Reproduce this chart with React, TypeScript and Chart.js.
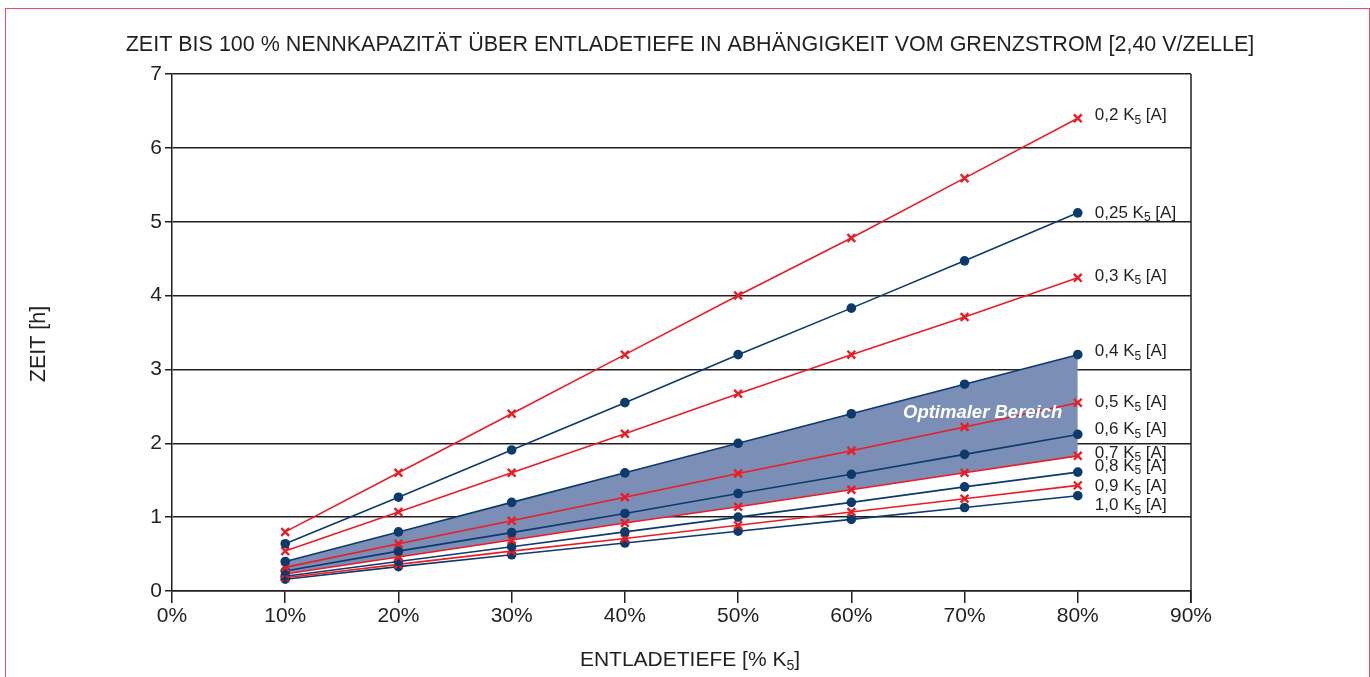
import { useEffect, useRef } from 'react';
import { Chart, registerables } from 'chart.js';
Chart.register(...registerables);

const depth = [10, 20, 30, 40, 50, 60, 70, 80];
const seriesNames = ['0,2', '0,25', '0,3', '0,4', '0,5', '0,6', '0,7', '0,8', '0,9', '1,0'];
const s02 = [0.8, 1.6, 2.4, 3.2, 4.0, 4.78, 5.59, 6.4];
const s025 = [0.64, 1.27, 1.91, 2.55, 3.2, 3.83, 4.47, 5.12];
const s03 = [0.54, 1.07, 1.6, 2.13, 2.67, 3.2, 3.71, 4.24];
const s04 = [0.4, 0.8, 1.2, 1.6, 2.0, 2.4, 2.8, 3.2];
const s05 = [0.32, 0.64, 0.95, 1.27, 1.59, 1.9, 2.22, 2.55];
const s06 = [0.27, 0.54, 0.79, 1.05, 1.32, 1.58, 1.85, 2.12];
const s07 = [0.23, 0.46, 0.69, 0.92, 1.14, 1.37, 1.6, 1.83];
const s08 = [0.2, 0.4, 0.6, 0.8, 1.0, 1.2, 1.41, 1.61];
const s09 = [0.18, 0.36, 0.54, 0.71, 0.89, 1.07, 1.25, 1.43];
const s10 = [0.16, 0.33, 0.49, 0.65, 0.81, 0.97, 1.13, 1.29];
const seriesValues = [s02, s025, s03, s04, s05, s06, s07, s08, s09, s10];
const xTicks = [0, 10, 20, 30, 40, 50, 60, 70, 80, 90];
const yTicks = [0, 1, 2, 3, 4, 5, 6, 7];

const TITLE = 'ZEIT BIS 100 % NENNKAPAZITÄT ÜBER ENTLADETIEFE IN ABHÄNGIGKEIT VOM GRENZSTROM [2,40 V/ZELLE]';
const Y_TITLE = 'ZEIT [h]';
const AREA_LABEL = 'Optimaler Bereich';

const RED = '#ec1c24';
const NAVY = '#0b3a6c';
const FILL = '#7b8fb6';
const INK = '#231f20';
const FONT = '"Liberation Sans", Arial, sans-serif';
const labelOffsets = [-3, 0, -2, -3, 0, -5, -3, -6, 1, 10];

const decor = {
  id: 'decor',
  afterDatasetsDraw(chart: any) {
    const { ctx, scales } = chart;
    const xs = scales.x;
    const ys = scales.y;
    ctx.save();
    ctx.font = `italic bold 18.5px ${FONT}`;
    ctx.fillStyle = '#ffffff';
    ctx.textAlign = 'center';
    ctx.textBaseline = 'middle';
    ctx.fillText(AREA_LABEL, xs.getPixelForValue(71.6), ys.getPixelForValue(2.41));
    ctx.restore();
  },
  afterDraw(chart: any) {
    const { ctx, chartArea, scales } = chart;
    const xs = scales.x;
    const ys = scales.y;
    ctx.save();
    ctx.strokeStyle = INK;
    ctx.lineWidth = 1.5;
    ctx.beginPath();
    ctx.moveTo(chartArea.right, chartArea.top);
    ctx.lineTo(chartArea.right, chartArea.bottom + 12);
    ctx.stroke();
    ctx.fillStyle = INK;
    ctx.font = `21.5px ${FONT}`;
    ctx.textAlign = 'center';
    ctx.textBaseline = 'middle';
    ctx.fillText(TITLE, 690, 45);
    ctx.save();
    ctx.translate(39, 344);
    ctx.rotate(-Math.PI / 2);
    ctx.font = `21.5px ${FONT}`;
    ctx.fillText(Y_TITLE, 0, 0);
    ctx.restore();
    const main = 'ENTLADETIEFE [% K';
    const sub = '5';
    const end = ']';
    ctx.font = `21px ${FONT}`;
    const w1 = ctx.measureText(main).width;
    const w3 = ctx.measureText(end).width;
    ctx.font = `14px ${FONT}`;
    const w2 = ctx.measureText(sub).width;
    const x0 = 690 - (w1 + w2 + w3) / 2;
    ctx.textAlign = 'left';
    ctx.font = `21px ${FONT}`;
    ctx.fillText(main, x0, 660);
    ctx.font = `14px ${FONT}`;
    ctx.fillText(sub, x0 + w1, 666);
    ctx.font = `21px ${FONT}`;
    ctx.fillText(end, x0 + w1 + w2, 660);
    const lastX = xs.getPixelForValue(depth[depth.length - 1]) + 17;
    seriesValues.forEach((vals, i) => {
      const y = ys.getPixelForValue(vals[vals.length - 1]) + labelOffsets[i];
      ctx.font = `17px ${FONT}`;
      const a = `${seriesNames[i]} K`;
      const wa = ctx.measureText(a).width;
      ctx.fillText(a, lastX, y);
      ctx.font = `12px ${FONT}`;
      ctx.fillText('5', lastX + wa, y + 5);
      const wb = ctx.measureText('5').width;
      ctx.font = `17px ${FONT}`;
      ctx.fillText(' [A]', lastX + wa + wb, y);
    });
    ctx.restore();
  },
};

export default function App() {
  const ref = useRef<HTMLCanvasElement | null>(null);
  useEffect(() => {
    if (!ref.current) return;
    const datasets = seriesValues.map((vals, i) => {
      const red = i % 2 === 0;
      return {
        label: seriesNames[i],
        data: vals.map((v, j) => ({ x: depth[j], y: v })),
        borderColor: red ? RED : NAVY,
        backgroundColor: i === 3 ? FILL : red ? RED : NAVY,
        pointBackgroundColor: red ? RED : NAVY,
        pointBorderColor: red ? RED : NAVY,
        pointStyle: red ? 'crossRot' : 'circle',
        pointRadius: red ? 5.5 : 4.8,
        pointBorderWidth: red ? 2.4 : 0,
        borderWidth: 1.6,
        fill: i === 3 ? 6 : false,
        tension: 0,
      };
    });
    const chart = new Chart(ref.current, {
      type: 'line',
      data: { datasets: datasets as any },
      options: {
        animation: false,
        responsive: false,
        layout: { padding: { top: 74, right: 179, left: 0, bottom: 0 } },
        plugins: {
          legend: { display: false },
          tooltip: { enabled: false },
          filler: { drawTime: 'beforeDatasetsDraw' } as any,
        },
        scales: {
          x: {
            type: 'linear',
            min: 0,
            max: 90,
            afterBuildTicks: (s: any) => { s.ticks = xTicks.map((v) => ({ value: v })); },
            afterFit: (s: any) => { s.height = 86; },
            ticks: {
              callback: (v: any) => `${v}%`,
              color: INK,
              font: { size: 21, family: FONT },
              padding: 1,
              maxRotation: 0,
            },
            grid: { drawOnChartArea: false, drawTicks: true, tickLength: 12, color: INK, lineWidth: 1.5 },
            border: { display: true, color: INK, width: 1.5 },
          },
          y: {
            type: 'linear',
            min: 0,
            max: 7,
            afterBuildTicks: (s: any) => { s.ticks = yTicks.map((v) => ({ value: v })); },
            afterFit: (s: any) => { s.width = 172; },
            ticks: {
              color: INK,
              font: { size: 21, family: FONT },
              padding: 3,
            },
            grid: { drawOnChartArea: true, drawTicks: true, tickLength: 7, color: INK, lineWidth: 1.5 },
            border: { display: true, color: INK, width: 1.5 },
          },
        },
      },
      plugins: [decor],
    });
    return () => chart.destroy();
  }, []);
  return (
    <div style={{ position: 'fixed', left: 0, top: 0, width: 1370, height: 677, background: '#fff', overflow: 'hidden' }}>
      <div style={{ position: 'absolute', left: 5, top: 8, width: 1363, height: 700, border: '1px solid #e94f6b' }} />
      <canvas ref={ref} width={1370} height={677} style={{ position: 'absolute', left: 0, top: 0, width: 1370, height: 677 }} />
    </div>
  );
}
